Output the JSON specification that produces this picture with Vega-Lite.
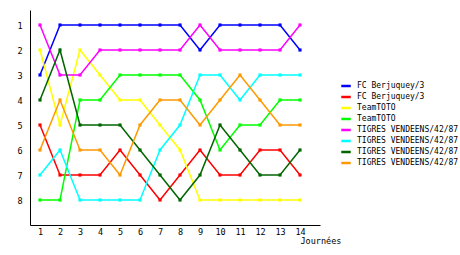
{
  "$schema": "https://vega.github.io/schema/vega-lite/v6.json",
  "width": 290,
  "height": 215,
  "autosize": {"type": "none"},
  "padding": {"left": 30, "top": 10, "right": 140, "bottom": 30},
  "background": "white",
  "config": {
    "view": {"stroke": null},
    "font": "DejaVu Sans Mono"
  },
  "datasets": {
    "classement": [
      {"equipe": "FC Berjuquey/3#1", "j": 1, "rang": 3}, {"equipe": "FC Berjuquey/3#1", "j": 2, "rang": 1}, {"equipe": "FC Berjuquey/3#1", "j": 3, "rang": 1}, {"equipe": "FC Berjuquey/3#1", "j": 4, "rang": 1}, {"equipe": "FC Berjuquey/3#1", "j": 5, "rang": 1}, {"equipe": "FC Berjuquey/3#1", "j": 6, "rang": 1}, {"equipe": "FC Berjuquey/3#1", "j": 7, "rang": 1}, {"equipe": "FC Berjuquey/3#1", "j": 8, "rang": 1}, {"equipe": "FC Berjuquey/3#1", "j": 9, "rang": 2}, {"equipe": "FC Berjuquey/3#1", "j": 10, "rang": 1}, {"equipe": "FC Berjuquey/3#1", "j": 11, "rang": 1}, {"equipe": "FC Berjuquey/3#1", "j": 12, "rang": 1}, {"equipe": "FC Berjuquey/3#1", "j": 13, "rang": 1}, {"equipe": "FC Berjuquey/3#1", "j": 14, "rang": 2},
      {"equipe": "FC Berjuquey/3#2", "j": 1, "rang": 5}, {"equipe": "FC Berjuquey/3#2", "j": 2, "rang": 7}, {"equipe": "FC Berjuquey/3#2", "j": 3, "rang": 7}, {"equipe": "FC Berjuquey/3#2", "j": 4, "rang": 7}, {"equipe": "FC Berjuquey/3#2", "j": 5, "rang": 6}, {"equipe": "FC Berjuquey/3#2", "j": 6, "rang": 7}, {"equipe": "FC Berjuquey/3#2", "j": 7, "rang": 8}, {"equipe": "FC Berjuquey/3#2", "j": 8, "rang": 7}, {"equipe": "FC Berjuquey/3#2", "j": 9, "rang": 6}, {"equipe": "FC Berjuquey/3#2", "j": 10, "rang": 7}, {"equipe": "FC Berjuquey/3#2", "j": 11, "rang": 7}, {"equipe": "FC Berjuquey/3#2", "j": 12, "rang": 6}, {"equipe": "FC Berjuquey/3#2", "j": 13, "rang": 6}, {"equipe": "FC Berjuquey/3#2", "j": 14, "rang": 7},
      {"equipe": "TeamTOTO#1", "j": 1, "rang": 2}, {"equipe": "TeamTOTO#1", "j": 2, "rang": 5}, {"equipe": "TeamTOTO#1", "j": 3, "rang": 2}, {"equipe": "TeamTOTO#1", "j": 4, "rang": 3}, {"equipe": "TeamTOTO#1", "j": 5, "rang": 4}, {"equipe": "TeamTOTO#1", "j": 6, "rang": 4}, {"equipe": "TeamTOTO#1", "j": 7, "rang": 5}, {"equipe": "TeamTOTO#1", "j": 8, "rang": 6}, {"equipe": "TeamTOTO#1", "j": 9, "rang": 8}, {"equipe": "TeamTOTO#1", "j": 10, "rang": 8}, {"equipe": "TeamTOTO#1", "j": 11, "rang": 8}, {"equipe": "TeamTOTO#1", "j": 12, "rang": 8}, {"equipe": "TeamTOTO#1", "j": 13, "rang": 8}, {"equipe": "TeamTOTO#1", "j": 14, "rang": 8},
      {"equipe": "TeamTOTO#2", "j": 1, "rang": 8}, {"equipe": "TeamTOTO#2", "j": 2, "rang": 8}, {"equipe": "TeamTOTO#2", "j": 3, "rang": 4}, {"equipe": "TeamTOTO#2", "j": 4, "rang": 4}, {"equipe": "TeamTOTO#2", "j": 5, "rang": 3}, {"equipe": "TeamTOTO#2", "j": 6, "rang": 3}, {"equipe": "TeamTOTO#2", "j": 7, "rang": 3}, {"equipe": "TeamTOTO#2", "j": 8, "rang": 3}, {"equipe": "TeamTOTO#2", "j": 9, "rang": 4}, {"equipe": "TeamTOTO#2", "j": 10, "rang": 6}, {"equipe": "TeamTOTO#2", "j": 11, "rang": 5}, {"equipe": "TeamTOTO#2", "j": 12, "rang": 5}, {"equipe": "TeamTOTO#2", "j": 13, "rang": 4}, {"equipe": "TeamTOTO#2", "j": 14, "rang": 4},
      {"equipe": "TIGRES VENDEENS/42/87#1", "j": 1, "rang": 1}, {"equipe": "TIGRES VENDEENS/42/87#1", "j": 2, "rang": 3}, {"equipe": "TIGRES VENDEENS/42/87#1", "j": 3, "rang": 3}, {"equipe": "TIGRES VENDEENS/42/87#1", "j": 4, "rang": 2}, {"equipe": "TIGRES VENDEENS/42/87#1", "j": 5, "rang": 2}, {"equipe": "TIGRES VENDEENS/42/87#1", "j": 6, "rang": 2}, {"equipe": "TIGRES VENDEENS/42/87#1", "j": 7, "rang": 2}, {"equipe": "TIGRES VENDEENS/42/87#1", "j": 8, "rang": 2}, {"equipe": "TIGRES VENDEENS/42/87#1", "j": 9, "rang": 1}, {"equipe": "TIGRES VENDEENS/42/87#1", "j": 10, "rang": 2}, {"equipe": "TIGRES VENDEENS/42/87#1", "j": 11, "rang": 2}, {"equipe": "TIGRES VENDEENS/42/87#1", "j": 12, "rang": 2}, {"equipe": "TIGRES VENDEENS/42/87#1", "j": 13, "rang": 2}, {"equipe": "TIGRES VENDEENS/42/87#1", "j": 14, "rang": 1},
      {"equipe": "TIGRES VENDEENS/42/87#2", "j": 1, "rang": 7}, {"equipe": "TIGRES VENDEENS/42/87#2", "j": 2, "rang": 6}, {"equipe": "TIGRES VENDEENS/42/87#2", "j": 3, "rang": 8}, {"equipe": "TIGRES VENDEENS/42/87#2", "j": 4, "rang": 8}, {"equipe": "TIGRES VENDEENS/42/87#2", "j": 5, "rang": 8}, {"equipe": "TIGRES VENDEENS/42/87#2", "j": 6, "rang": 8}, {"equipe": "TIGRES VENDEENS/42/87#2", "j": 7, "rang": 6}, {"equipe": "TIGRES VENDEENS/42/87#2", "j": 8, "rang": 5}, {"equipe": "TIGRES VENDEENS/42/87#2", "j": 9, "rang": 3}, {"equipe": "TIGRES VENDEENS/42/87#2", "j": 10, "rang": 3}, {"equipe": "TIGRES VENDEENS/42/87#2", "j": 11, "rang": 4}, {"equipe": "TIGRES VENDEENS/42/87#2", "j": 12, "rang": 3}, {"equipe": "TIGRES VENDEENS/42/87#2", "j": 13, "rang": 3}, {"equipe": "TIGRES VENDEENS/42/87#2", "j": 14, "rang": 3},
      {"equipe": "TIGRES VENDEENS/42/87#3", "j": 1, "rang": 4}, {"equipe": "TIGRES VENDEENS/42/87#3", "j": 2, "rang": 2}, {"equipe": "TIGRES VENDEENS/42/87#3", "j": 3, "rang": 5}, {"equipe": "TIGRES VENDEENS/42/87#3", "j": 4, "rang": 5}, {"equipe": "TIGRES VENDEENS/42/87#3", "j": 5, "rang": 5}, {"equipe": "TIGRES VENDEENS/42/87#3", "j": 6, "rang": 6}, {"equipe": "TIGRES VENDEENS/42/87#3", "j": 7, "rang": 7}, {"equipe": "TIGRES VENDEENS/42/87#3", "j": 8, "rang": 8}, {"equipe": "TIGRES VENDEENS/42/87#3", "j": 9, "rang": 7}, {"equipe": "TIGRES VENDEENS/42/87#3", "j": 10, "rang": 5}, {"equipe": "TIGRES VENDEENS/42/87#3", "j": 11, "rang": 6}, {"equipe": "TIGRES VENDEENS/42/87#3", "j": 12, "rang": 7}, {"equipe": "TIGRES VENDEENS/42/87#3", "j": 13, "rang": 7}, {"equipe": "TIGRES VENDEENS/42/87#3", "j": 14, "rang": 6},
      {"equipe": "TIGRES VENDEENS/42/87#4", "j": 1, "rang": 6}, {"equipe": "TIGRES VENDEENS/42/87#4", "j": 2, "rang": 4}, {"equipe": "TIGRES VENDEENS/42/87#4", "j": 3, "rang": 6}, {"equipe": "TIGRES VENDEENS/42/87#4", "j": 4, "rang": 6}, {"equipe": "TIGRES VENDEENS/42/87#4", "j": 5, "rang": 7}, {"equipe": "TIGRES VENDEENS/42/87#4", "j": 6, "rang": 5}, {"equipe": "TIGRES VENDEENS/42/87#4", "j": 7, "rang": 4}, {"equipe": "TIGRES VENDEENS/42/87#4", "j": 8, "rang": 4}, {"equipe": "TIGRES VENDEENS/42/87#4", "j": 9, "rang": 5}, {"equipe": "TIGRES VENDEENS/42/87#4", "j": 10, "rang": 4}, {"equipe": "TIGRES VENDEENS/42/87#4", "j": 11, "rang": 3}, {"equipe": "TIGRES VENDEENS/42/87#4", "j": 12, "rang": 4}, {"equipe": "TIGRES VENDEENS/42/87#4", "j": 13, "rang": 5}, {"equipe": "TIGRES VENDEENS/42/87#4", "j": 14, "rang": 5}
    ]
  },
  "data": {"name": "classement"},
  "encoding": {
    "x": {
      "field": "j", "type": "quantitative",
      "scale": {"domain": [0.5, 15], "nice": false, "zero": false},
      "axis": {
        "values": [1,2,3,4,5,6,7,8,9,10,11,12,13,14],
        "grid": false, "ticks": false, "domainColor": "black", "domainWidth": 1,
        "labelFont": "DejaVu Sans Mono", "labelFontSize": 8.5, "labelColor": "black",
        "labelPadding": 2, "labelFlush": false,
        "title": "Journées", "titleFont": "DejaVu Sans Mono", "titleFontSize": 8.5,
        "titleFontWeight": "normal", "titleColor": "black",
        "titleAlign": "left", "titleBaseline": "middle", "titleX": 270, "titleY": 15
      }
    },
    "y": {
      "field": "rang", "type": "quantitative",
      "scale": {"domain": [0.4, 9], "reverse": true, "nice": false, "zero": false},
      "axis": {
        "values": [1,2,3,4,5,6,7,8],
        "grid": false, "ticks": false, "domainColor": "black", "domainWidth": 1,
        "labelFont": "DejaVu Sans Mono", "labelFontSize": 8.5, "labelColor": "black",
        "labelPadding": 8, "title": null
      }
    },
    "color": {
      "field": "equipe", "type": "nominal",
      "scale": {
        "domain": ["FC Berjuquey/3#1", "FC Berjuquey/3#2", "TeamTOTO#1", "TeamTOTO#2", "TIGRES VENDEENS/42/87#1", "TIGRES VENDEENS/42/87#2", "TIGRES VENDEENS/42/87#3", "TIGRES VENDEENS/42/87#4"],
        "range": ["#0000ff", "#ff0000", "#ffff00", "#00ff00", "#ff00ff", "#00ffff", "#006600", "#ff9900"]
      },
      "legend": {
        "orient": "none", "legendX": 310, "legendY": 70,
        "title": null, "symbolType": "stroke", "symbolSize": 90, "symbolStrokeWidth": 2.5,
        "labelExpr": "split(datum.label, '#')[0]",
        "labelFont": "DejaVu Sans Mono", "labelFontSize": 8, "labelColor": "black",
        "labelBaseline": "middle", "labelOffset": 5, "rowPadding": 0, "labelLimit": 200
      }
    }
  },
  "layer": [
    {"mark": {"type": "line", "strokeWidth": 1.5, "interpolate": "linear"}},
    {"mark": {"type": "point", "shape": "square", "size": 10, "filled": true, "opacity": 1}}
  ]
}
